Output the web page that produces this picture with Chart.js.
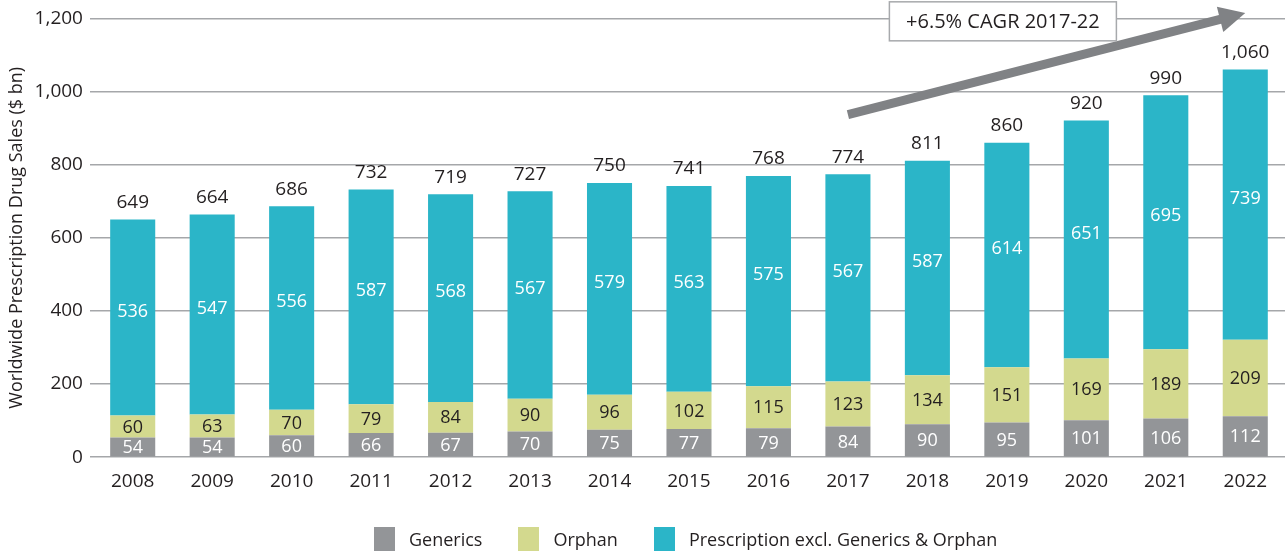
<!DOCTYPE html>
<html>
<head>
<meta charset="utf-8">
<script src="https://cdn.jsdelivr.net/npm/chart.js@4/dist/chart.umd.min.js"></script>
<style>
  html, body { margin: 0; padding: 0; background: #ffffff; }
  #wrap { width: 1285px; height: 552px; position: relative; }
  #legend {
    position: absolute; left: 374px; top: 527px;
    display: flex; align-items: center;
    font-family: "Open Sans", sans-serif; font-size: 18px; color: #231f20;
  }
  .item { display: flex; align-items: center; margin-right: 36px; }
  .swatch { width: 21px; height: 24px; margin-right: 14px; }
</style>
</head>
<body>
<div id="wrap"><canvas id="salesChart"></canvas><div id="legend"></div></div>
<script>
const years = ["2008", "2009", "2010", "2011", "2012", "2013", "2014", "2015", "2016", "2017", "2018", "2019", "2020", "2021", "2022"];
const generics = [54, 54, 60, 66, 67, 70, 75, 77, 79, 84, 90, 95, 101, 106, 112];
const orphan = [60, 63, 70, 79, 84, 90, 96, 102, 115, 123, 134, 151, 169, 189, 209];
const otherRx = [536, 547, 556, 587, 568, 567, 579, 563, 575, 567, 587, 614, 651, 695, 739];
const totals = [649, 664, 686, 732, 719, 727, 750, 741, 768, 774, 811, 860, 920, 990, 1060];
const yTicks = [0, 200, 400, 600, 800, 1000, 1200];

// CAGR arrow: from 2017 to 2022, in value units
const arrowFrom = { index: 9, value: 937 };
const arrowTo = { index: 14, value: 1215 };
const cagrText = "+6.5% CAGR 2017-22";

const FONT = "'Open Sans'";
const textColor = "#231f20";
const colors = {
  generics: "#939598",
  orphan: "#d3d98e",
  other: "#2bb5c8",
  grid: "#a5a7aa",
  arrow: "#808285",
};

const fmt = (v) => v.toLocaleString("en-US");

const segmentLabels = {
  id: "segmentLabels",
  afterDatasetsDraw(chart) {
    const ctx = chart.ctx;
    ctx.save();
    ctx.font = `18px ${FONT}`;
    ctx.textAlign = "center";
    ctx.textBaseline = "middle";
    chart.data.datasets.forEach((ds, di) => {
      const meta = chart.getDatasetMeta(di);
      meta.data.forEach((bar, i) => {
        const mid = (bar.y + bar.base) / 2;
        ctx.fillStyle = ds.labelColor;
        ctx.fillText(ds.data[i], bar.x, mid + (di === 2 ? -6 : 1));
      });
    });
    // totals above the stack
    const top = chart.getDatasetMeta(chart.data.datasets.length - 1);
    ctx.font = `19px ${FONT}`;
    ctx.fillStyle = textColor;
    top.data.forEach((bar, i) => {
      ctx.fillText(fmt(totals[i]), bar.x, bar.y - 17);
    });
    ctx.restore();
  },
};

const cagrArrow = {
  id: "cagrArrow",
  afterDraw(chart) {
    const { ctx, scales } = chart;
    const x1 = scales.x.getPixelForValue(arrowFrom.index);
    const y1 = scales.y.getPixelForValue(arrowFrom.value);
    const x2 = scales.x.getPixelForValue(arrowTo.index);
    const y2 = scales.y.getPixelForValue(arrowTo.value);
    const ang = Math.atan2(y2 - y1, x2 - x1);
    const headLen = 26;
    const headHalf = 13;
    const bx = x2 - headLen * Math.cos(ang);
    const by = y2 - headLen * Math.sin(ang);

    ctx.save();
    ctx.strokeStyle = colors.arrow;
    ctx.fillStyle = colors.arrow;
    ctx.lineWidth = 9;
    ctx.beginPath();
    ctx.moveTo(x1, y1);
    ctx.lineTo(bx + Math.cos(ang), by + Math.sin(ang));
    ctx.stroke();
    ctx.beginPath();
    ctx.moveTo(x2, y2);
    ctx.lineTo(bx - headHalf * Math.sin(ang), by + headHalf * Math.cos(ang));
    ctx.lineTo(bx + headHalf * Math.sin(ang), by - headHalf * Math.cos(ang));
    ctx.closePath();
    ctx.fill();

    // label box
    const cx = scales.x.getPixelForValue(10.95);
    const cy = scales.y.getPixelForValue(1192);
    const w = 227, h = 39;
    ctx.fillStyle = "#ffffff";
    ctx.fillRect(cx - w / 2, cy - h / 2, w, h);
    ctx.strokeStyle = "#a7a9ac";
    ctx.lineWidth = 1.5;
    ctx.strokeRect(cx - w / 2, cy - h / 2, w, h);
    ctx.fillStyle = textColor;
    ctx.font = `20px ${FONT}`;
    ctx.textAlign = "center";
    ctx.textBaseline = "middle";
    ctx.fillText(cagrText, cx, cy + 1);
    ctx.restore();
  },
};

const chart = new Chart(document.getElementById("salesChart"), {
  type: "bar",
  data: {
    labels: years,
    datasets: [
      { label: "Generics", data: generics, backgroundColor: colors.generics, labelColor: "#ffffff" },
      { label: "Orphan", data: orphan, backgroundColor: colors.orphan, labelColor: textColor },
      { label: "Prescription excl. Generics & Orphan", data: otherRx, backgroundColor: colors.other, labelColor: "#ffffff" },
    ],
  },
  options: {
    responsive: true,
    maintainAspectRatio: false,
    animation: false,
    layout: { padding: { top: 10, right: 0, left: 0, bottom: 46 } },
    datasets: {
      bar: { categoryPercentage: 1, barPercentage: 0.567 },
    },
    plugins: {
      legend: { display: false },
      tooltip: { enabled: false },
    },
    scales: {
      x: {
        stacked: true,
        grid: { display: false, drawTicks: false },
        border: { display: false },
        ticks: { color: textColor, font: { family: FONT, size: 19 }, padding: 13 },
      },
      y: {
        stacked: true,
        min: 0,
        max: 1200,
        afterBuildTicks(axis) {
          axis.ticks = yTicks.map((v) => ({ value: v }));
        },
        border: { display: false },
        grid: { color: colors.grid, lineWidth: 1.5, tickLength: 3, tickColor: colors.grid },
        ticks: {
          color: textColor,
          font: { family: FONT, size: 19 },
          padding: 7,
          callback: (v) => fmt(v),
        },
        title: {
          display: true,
          text: "Worldwide Prescription Drug Sales ($ bn)",
          color: textColor,
          font: { family: FONT, size: 18 },
          padding: { top: 6, bottom: 0 },
        },
      },
    },
  },
  plugins: [segmentLabels, cagrArrow],
});

// html legend built from the datasets
const legendEl = document.getElementById("legend");
chart.data.datasets.forEach((ds) => {
  const item = document.createElement("div");
  item.className = "item";
  const sw = document.createElement("span");
  sw.className = "swatch";
  sw.style.background = ds.backgroundColor;
  const txt = document.createElement("span");
  txt.textContent = ds.label;
  item.appendChild(sw);
  item.appendChild(txt);
  legendEl.appendChild(item);
});
</script>
</body>
</html>
